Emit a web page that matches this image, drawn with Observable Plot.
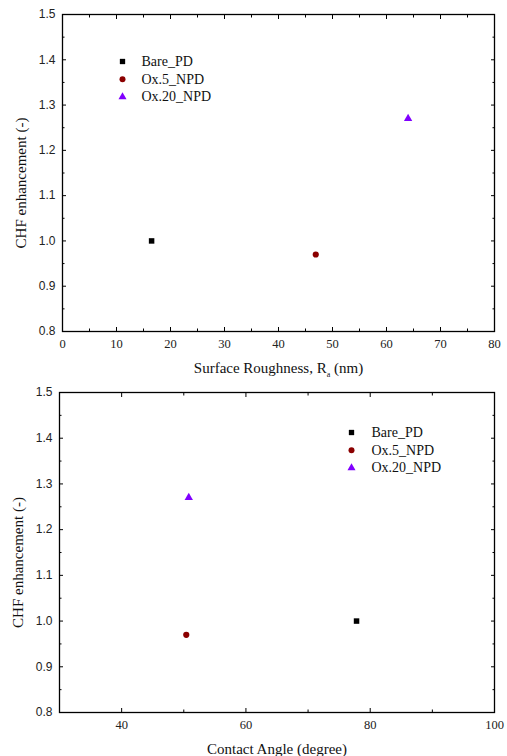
<!DOCTYPE html>
<html>
<head>
<meta charset="utf-8">
<script src="https://cdn.jsdelivr.net/npm/d3@7"></script>
<script src="https://cdn.jsdelivr.net/npm/@observablehq/plot@0.6"></script>
<style>
  html, body { margin: 0; padding: 0; background: #fff; }
  #chart svg { display: block; background: #fff; }
</style>
</head>
<body>
<div id="chart"></div>
<script>
// ---- data ----
const seriesNames = ["Bare_PD", "Ox.5_NPD", "Ox.20_NPD"];
const seriesSymbols = ["square", "circle", "triangle"];
const seriesColors = ["#000000", "#8b0000", "#8000ff"];
const roughness = [16.5, 46.9, 64.0];      // Ra (nm)
const contactAngle = [77.8, 50.4, 50.8];   // degree
const chfEnhancement = [1.00, 0.97, 1.27];

const yMajor = [0.8, 0.9, 1.0, 1.1, 1.2, 1.3, 1.4, 1.5];
const yMinor = [0.85, 0.95, 1.05, 1.15, 1.25, 1.35, 1.45];
const xMajorTop = [0, 10, 20, 30, 40, 50, 60, 70, 80];
const xMinorTop = [5, 15, 25, 35, 45, 55, 65, 75];
const xMajorBot = [40, 60, 80, 100];
const xMinorBot = [50, 70, 90];

const rows = seriesNames.map((name, i) => ({
  name, ra: roughness[i], ca: contactAngle[i], chf: chfEnhancement[i]
}));

const serif = "'Liberation Serif', 'Times New Roman', serif";
const sans = "'Liberation Sans', Arial, sans-serif";

function panel({xKey, xDomain, xMajor, xMinor, xTitle, height, margins, legend}) {
  const blank = () => "";
  const marks = [
    Plot.frame({stroke: "#000", strokeWidth: 1.3}),
    Plot.axisY({anchor: "left", ticks: yMajor, tickSize: -4, tickPadding: 11, tickFormat: d3.format(".1f"),
      fontFamily: sans, fontSize: 12, fill: "#222", label: null}),
    Plot.axisY({anchor: "left", ticks: yMinor, tickSize: -2.5, tickFormat: blank, label: null}),
    Plot.axisY({anchor: "right", ticks: yMajor, tickSize: -4, tickFormat: blank, label: null}),
    Plot.axisY({anchor: "right", ticks: yMinor, tickSize: -2.5, tickFormat: blank, label: null}),
    Plot.axisX({anchor: "bottom", ticks: xMajor, tickSize: -4, tickPadding: 12, tickFormat: d3.format("d"),
      fontFamily: serif, fontSize: 12.5, fill: "#222", label: null}),
    Plot.axisX({anchor: "bottom", ticks: xMinor, tickSize: -2.5, tickFormat: blank, label: null}),
    Plot.axisX({anchor: "top", ticks: xMajor, tickSize: -4, tickFormat: blank, label: null}),
    Plot.axisX({anchor: "top", ticks: xMinor, tickSize: -2.5, tickFormat: blank, label: null}),
    Plot.text(["CHF enhancement (-)"], {frameAnchor: "left", dx: -41, dy: 10, rotate: -90,
      fontFamily: serif, fontSize: 15, fill: "#111", lineAnchor: "middle", textAnchor: "middle"}),
    Plot.text([xTitle], {frameAnchor: "bottom", dy: 37, fontFamily: serif, fontSize: 15,
      fill: "#111", lineAnchor: "middle", textAnchor: "middle"}),
    Plot.dot(rows, {x: xKey, y: "chf", symbol: "name", fill: "name", r: 3.1})
  ];
  rows.forEach((d, i) => {
    marks.push(Plot.dot([d], {frameAnchor: "top-left", dx: legend.dx, dy: legend.dy + i * legend.step,
      symbol: "name", fill: "name", r: 3}));
    marks.push(Plot.text([d], {frameAnchor: "top-left", dx: legend.dx + legend.gap, dy: legend.dy + i * legend.step,
      text: "name", textAnchor: "start", lineAnchor: "middle", fontFamily: serif, fontSize: 14, fill: "#111"}));
  });
  return Plot.plot({
    width: 507,
    height,
    ...margins,
    style: {background: "#fff", overflow: "visible"},
    x: {domain: xDomain, axis: null},
    y: {domain: [0.8, 1.5], axis: null},
    color: {domain: seriesNames, range: seriesColors},
    symbol: {domain: seriesNames, range: seriesSymbols},
    marks
  });
}

const topPanel = panel({
  xKey: "ra", xDomain: [0, 80], xMajor: xMajorTop, xMinor: xMinorTop,
  xTitle: "Surface Roughness, R_a (nm)", height: 375,
  margins: {marginLeft: 62, marginRight: 13, marginTop: 14, marginBottom: 44},
  legend: {dx: 60, dy: 47, step: 17.7, gap: 19}
});
const bottomPanel = panel({
  xKey: "ca", xDomain: [30, 100], xMajor: xMajorBot, xMinor: xMinorBot,
  xTitle: "Contact Angle (degree)", height: 381,
  margins: {marginLeft: 59, marginRight: 13, marginTop: 17, marginBottom: 44},
  legend: {dx: 292, dy: 40, step: 17.7, gap: 20}
});

d3.select(topPanel).selectAll("text").filter(function () {
  return this.textContent === "Surface Roughness, R_a (nm)";
}).each(function () {
  const t = d3.select(this);
  t.text(null);
  t.append("tspan").text("Surface Roughness, R");
  t.append("tspan").attr("dy", 4).attr("font-size", 8).text("a");
  t.append("tspan").attr("dy", -4).text(" (nm)");
});

const chart = document.getElementById("chart");
chart.appendChild(topPanel);
chart.appendChild(bottomPanel);
</script>
</body>
</html>
